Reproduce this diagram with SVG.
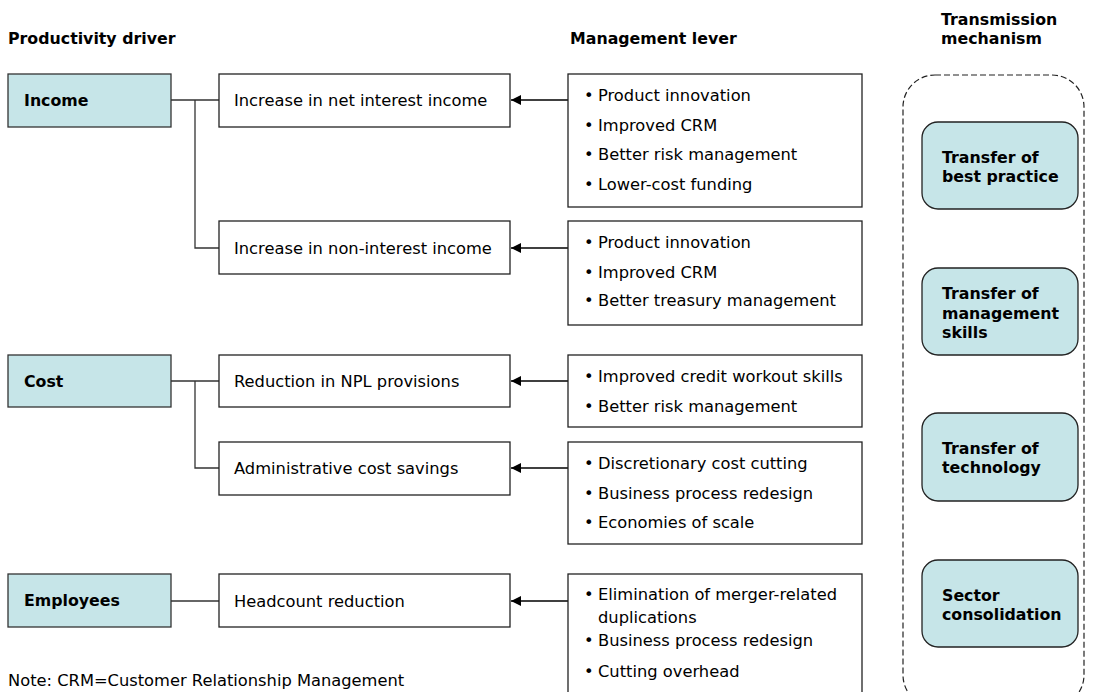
<svg xmlns="http://www.w3.org/2000/svg" width="1094" height="692" viewBox="0 0 1094 692">
<style>
text{font-family:"DejaVu Sans","Verdana",sans-serif;font-size:16.3px;fill:#000}
.b{font-weight:bold;font-size:15.8px}
.drv{fill:#c6e5e8;stroke:#333;stroke-width:1.3}
.box{fill:#fff;stroke:#222;stroke-width:1.3}
.tm{fill:#c6e5e8;stroke:#222;stroke-width:1.3}
.ln{fill:none;stroke:#333;stroke-width:1.3}
.ar{fill:none;stroke:#000;stroke-width:1.5}
</style>
<defs>
<marker id="ah" viewBox="0 0 10 10" refX="10" refY="5" markerWidth="10" markerHeight="10" markerUnits="userSpaceOnUse" orient="auto">
<path d="M0,0 L10,5 L0,10 Z" fill="#000"/>
</marker>
</defs>
<rect width="1094" height="692" fill="#fff"/>
<g id="headers">
<text class="b" x="8" y="44">Productivity driver</text>
<text class="b" x="570" y="44">Management lever</text>
<text class="b" x="941" y="25">Transmission</text>
<text class="b" x="941" y="44">mechanism</text>
</g>
<g id="container">
<rect x="903" y="75" width="181" height="632" rx="32" fill="none" stroke="#222" stroke-width="1.2" stroke-dasharray="6,3"/>
</g>
<g id="connectors">
<path class="ln" d="M171,100 H219 M195,100 V248 H219"/>
<path class="ln" d="M171,381 H219 M195,381 V468 H219"/>
<path class="ln" d="M171,601 H219"/>
<path class="ar" d="M568,100 H511" marker-end="url(#ah)"/>
<path class="ar" d="M568,248 H511" marker-end="url(#ah)"/>
<path class="ar" d="M568,381 H511" marker-end="url(#ah)"/>
<path class="ar" d="M568,468 H511" marker-end="url(#ah)"/>
<path class="ar" d="M568,601 H511" marker-end="url(#ah)"/>
</g>
<g id="income"><rect class="drv" x="8" y="74" width="163" height="53"/><text class="b" x="24" y="106">Income</text></g>
<g id="cost"><rect class="drv" x="8" y="355" width="163" height="52"/><text class="b" x="24" y="387">Cost</text></g>
<g id="employees"><rect class="drv" x="8" y="574" width="163" height="53"/><text class="b" x="24" y="606">Employees</text></g>
<g id="net-interest"><rect class="box" x="219" y="74" width="291" height="53"/><text x="234" y="106">Increase in net interest income</text></g>
<g id="non-interest"><rect class="box" x="219" y="221" width="291" height="53"/><text x="234" y="254">Increase in non-interest income</text></g>
<g id="npl"><rect class="box" x="219" y="355" width="291" height="52"/><text x="234" y="387">Reduction in NPL provisions</text></g>
<g id="admin"><rect class="box" x="219" y="442" width="291" height="53"/><text x="234" y="474">Administrative cost savings</text></g>
<g id="headcount"><rect class="box" x="219" y="574" width="291" height="53"/><text x="234" y="607">Headcount reduction</text></g>
<g id="lever1"><rect class="box" x="568" y="74" width="294" height="133"/>
<text x="584" y="101">•<tspan x="598">Product innovation</tspan></text>
<text x="584" y="131">•<tspan x="598">Improved CRM</tspan></text>
<text x="584" y="160">•<tspan x="598">Better risk management</tspan></text>
<text x="584" y="190">•<tspan x="598">Lower-cost funding</tspan></text></g>
<g id="lever2"><rect class="box" x="568" y="221" width="294" height="104"/>
<text x="584" y="248">•<tspan x="598">Product innovation</tspan></text>
<text x="584" y="277.5">•<tspan x="598">Improved CRM</tspan></text>
<text x="584" y="306">•<tspan x="598">Better treasury management</tspan></text></g>
<g id="lever3"><rect class="box" x="568" y="355" width="294" height="72"/>
<text x="584" y="382">•<tspan x="598">Improved credit workout skills</tspan></text>
<text x="584" y="412">•<tspan x="598">Better risk management</tspan></text></g>
<g id="lever4"><rect class="box" x="568" y="442" width="294" height="102"/>
<text x="584" y="469">•<tspan x="598">Discretionary cost cutting</tspan></text>
<text x="584" y="499">•<tspan x="598">Business process redesign</tspan></text>
<text x="584" y="528">•<tspan x="598">Economies of scale</tspan></text></g>
<g id="lever5"><rect class="box" x="568" y="574" width="294" height="130"/>
<text x="584" y="600">•<tspan x="598">Elimination of merger-related</tspan></text>
<text x="598" y="623">duplications</text>
<text x="584" y="646">•<tspan x="598">Business process redesign</tspan></text>
<text x="584" y="677">•<tspan x="598">Cutting overhead</tspan></text></g>
<g id="tm1"><rect class="tm" x="922" y="122" width="156" height="87" rx="16"/><text class="b" x="942" y="163">Transfer of</text><text class="b" x="942" y="182">best practice</text></g>
<g id="tm2"><rect class="tm" x="922" y="268" width="156" height="87" rx="16"/><text class="b" x="942" y="299">Transfer of</text><text class="b" x="942" y="319">management</text><text class="b" x="942" y="338">skills</text></g>
<g id="tm3"><rect class="tm" x="922" y="413" width="156" height="88" rx="16"/><text class="b" x="942" y="454">Transfer of</text><text class="b" x="942" y="473">technology</text></g>
<g id="tm4"><rect class="tm" x="922" y="560" width="156" height="87" rx="16"/><text class="b" x="942" y="601">Sector</text><text class="b" x="942" y="620">consolidation</text></g>
<g id="note"><text x="8" y="686">Note: CRM=Customer Relationship Management</text></g>
</svg>
